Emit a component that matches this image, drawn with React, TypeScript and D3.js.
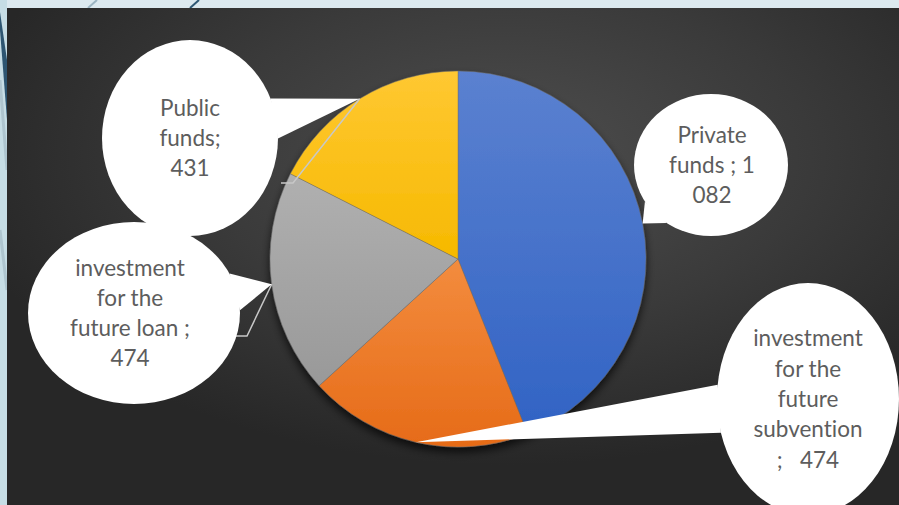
import React from "react";
import * as d3 from "d3";

const categories = [
  "Private funds",
  "investment for the future subvention",
  "investment for the future loan",
  "Public funds",
];
const values = [1082, 474, 474, 431];
const labelLines = [
  ["Private", "funds ; 1", "082"],
  ["investment", "for the", "future", "subvention", ";   474"],
  ["investment", "for the", "future loan ;", "474"],
  ["Public", "funds;", "431"],
];
const colorsTop = ["#5b81d0", "#f38c3e", "#b0b0b0", "#ffc832"];
const colorsBottom = ["#3163c4", "#e66b18", "#999999", "#f6b900"];

// layout of callout bubbles (positions only)
const bubbles = [
  { cx: 711, cy: 165, rx: 77, ry: 71, tdx: 1, leader: null as null | number[][] },
  { cx: 808, cy: 399, rx: 91, ry: 116, tdx: 0, leader: null as null | number[][] },
  { cx: 134, cy: 313, rx: 106, ry: 91, tdx: -4, leader: [[233, 336], [247, 336]] },
  { cx: 190, cy: 138, rx: 88, ry: 98, tdx: 0, leader: [[281, 183], [293, 183]] },
];

const W = 899;
const H = 505;
const CX = 458;
const CY = 259;
const R = 188;

export default function App() {
  const pie = d3.pie<number>().sort(null).value((d) => d);
  const arcs = pie(values);
  const arc = d3.arc<d3.PieArcDatum<number>>().innerRadius(0).outerRadius(R);

  const tipOf = (a: d3.PieArcDatum<number>) => {
    const m = (a.startAngle + a.endAngle) / 2;
    return [CX + R * Math.sin(m), CY - R * Math.cos(m)];
  };

  const bubblePath = (b: typeof bubbles[0], tip: number[]) => {
    const nx = (tip[0] - b.cx) / b.rx;
    const ny = (tip[1] - b.cy) / b.ry;
    const th = Math.atan2(ny, nx);
    const d = (12 * Math.PI) / 180;
    const p1 = [b.cx + b.rx * Math.cos(th - d), b.cy + b.ry * Math.sin(th - d)];
    const p2 = [b.cx + b.rx * Math.cos(th + d), b.cy + b.ry * Math.sin(th + d)];
    return `M${p1[0]},${p1[1]}L${tip[0]},${tip[1]}L${p2[0]},${p2[1]}Z`;
  };

  const line = d3.line();

  return (
    <svg width={W} height={H} style={{ position: "absolute", left: 0, top: 0 }}>
      <defs>
        <radialGradient id="bg" cx="0.56" cy="0.3" r="0.62" gradientUnits="objectBoundingBox">
          <stop offset="0" stopColor="#4e4e4e" />
          <stop offset="0.55" stopColor="#3a3a3a" />
          <stop offset="1" stopColor="#272727" />
        </radialGradient>
        {arcs.map((a, i) => (
          <linearGradient key={i} id={`g${i}`} x1="0" y1="0" x2="0" y2="1">
            <stop offset="0" stopColor={colorsTop[i]} />
            <stop offset="1" stopColor={colorsBottom[i]} />
          </linearGradient>
        ))}
        <filter id="sh" x="-20%" y="-20%" width="140%" height="140%">
          <feDropShadow dx="0" dy="5" stdDeviation="4" floodColor="#000" floodOpacity="0.7" />
        </filter>
      </defs>
      <rect x={0} y={0} width={W} height={H} fill="#dce9ef" />
      <rect x={0} y={0} width={7} height={H} fill="#c6dde5" />
      <path d="M0,80 L7,170" stroke="#aec5cf" strokeWidth={3} fill="none" />
      <path d="M0,230 L7,290" stroke="#aec5cf" strokeWidth={3} fill="none" />
      <path d="M0,12 L0,30 L7,120 L7,60 Z" fill="#2d5571" />
      <path d="M88,8 L97,0" stroke="#9bb4c2" strokeWidth={2} fill="none" />
      <path d="M190,8 L199,0" stroke="#2f5874" strokeWidth={2} fill="none" />
      <rect x={7} y={8} width={W - 7} height={H - 8} fill="url(#bg)" />

      <g transform={`translate(${CX},${CY})`} filter="url(#sh)">
        {arcs.map((a, i) => (
          <path
            key={categories[i]}
            d={arc(a) || ""}
            fill={`url(#g${i})`}
            stroke="rgba(110,110,110,0.45)"
            strokeWidth={1}
          />
        ))}
      </g>

      {arcs.map((a, i) => {
        const b = bubbles[i];
        if (!b.leader) return null;
        const pts = [...b.leader, tipOf(a)] as [number, number][];
        return (
          <path key={"l" + i} d={line(pts) || ""} stroke="#c8c8c8" strokeWidth={1.5} fill="none" />
        );
      })}

      {arcs.map((a, i) => {
        const b = bubbles[i];
        const tip = tipOf(a);
        const lines = labelLines[i];
        const n = lines.length;
        return (
          <g key={"b" + i}>
            <ellipse cx={b.cx} cy={b.cy} rx={b.rx} ry={b.ry} fill="#ffffff" />
            <path d={bubblePath(b, tip)} fill="#ffffff" />
            <text
              fontFamily="Lato, 'Open Sans', sans-serif"
              fontSize={22.5}
              fill="#5d5d5d"
              textAnchor="middle"
              style={{ fontVariantLigatures: "none", fontFeatureSettings: '"liga" 0, "dlig" 0' }}
            >
              {lines.map((t, k) => (
                <tspan
                  key={k}
                  x={b.cx + b.tdx}
                  y={b.cy + (k - (n - 1) / 2) * 30.3 + 8}
                  style={{ whiteSpace: "pre" }}
                >
                  {t}
                </tspan>
              ))}
            </text>
          </g>
        );
      })}
    </svg>
  );
}
